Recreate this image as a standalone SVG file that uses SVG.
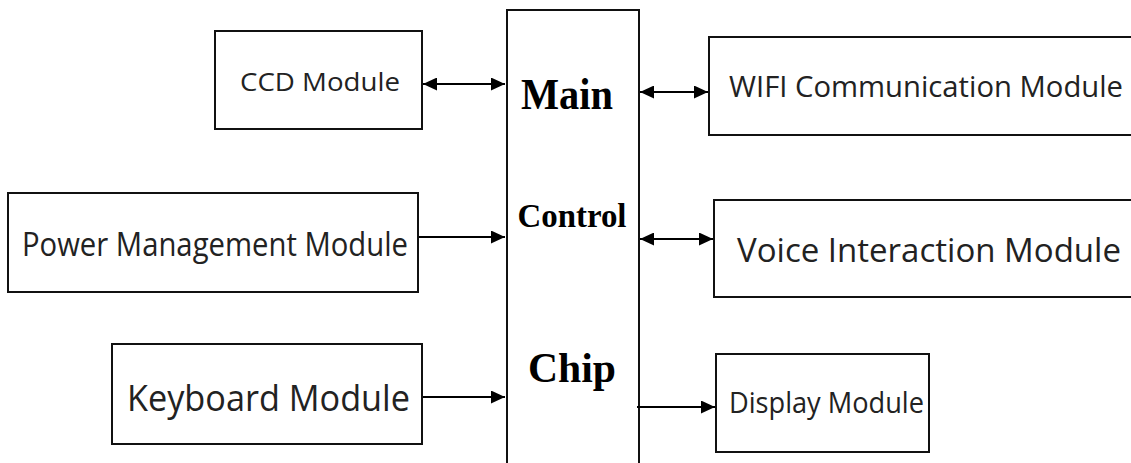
<svg xmlns="http://www.w3.org/2000/svg" width="1131" height="463" viewBox="0 0 1131 463">
  <style>
    .box { fill: #ffffff; stroke: #111111; stroke-width: 2; }
    .lbl { font-family: "Open Sans", "Noto Sans", "Liberation Sans", sans-serif; fill: #222222; }
    .chip { font-family: "Liberation Serif", "Times New Roman", serif; font-weight: bold; fill: #000000; text-anchor: middle; }
    .conn { stroke: #000000; stroke-width: 2; fill: none; }
  </style>
  <defs>
    <marker id="arrow" markerUnits="userSpaceOnUse" markerWidth="15" markerHeight="13" refX="14" refY="6.5" orient="auto-start-reverse">
      <path d="M0,0 L14,6.5 L0,13 Z" fill="#000000"/>
    </marker>
  </defs>
  <rect width="1131" height="463" fill="#ffffff"/>

  <g id="main-chip">
    <rect class="box" x="507" y="10" width="132" height="470"/>
    <text class="chip" x="567" y="109" font-size="44" textLength="92" lengthAdjust="spacingAndGlyphs">Main</text>
    <text class="chip" x="572" y="227" font-size="33" textLength="109" lengthAdjust="spacingAndGlyphs">Control</text>
    <text class="chip" x="572" y="382" font-size="43" textLength="88" lengthAdjust="spacingAndGlyphs">Chip</text>
  </g>

  <g id="ccd-module">
    <rect class="box" x="215" y="31" width="207" height="98"/>
    <text class="lbl" x="240" y="91" font-size="26" textLength="160" lengthAdjust="spacingAndGlyphs">CCD Module</text>
  </g>

  <g id="power-module">
    <rect class="box" x="8" y="193" width="410" height="99"/>
    <text class="lbl" x="22" y="256" font-size="32" textLength="386" lengthAdjust="spacingAndGlyphs">Power Management Module</text>
  </g>

  <g id="keyboard-module">
    <rect class="box" x="112" y="344" width="310" height="100"/>
    <text class="lbl" x="127" y="411" font-size="37" textLength="283" lengthAdjust="spacingAndGlyphs">Keyboard Module</text>
  </g>

  <g id="wifi-module">
    <rect class="box" x="709" y="37" width="440" height="98"/>
    <text class="lbl" x="729" y="97" font-size="29" textLength="394" lengthAdjust="spacingAndGlyphs">WIFI Communication Module</text>
  </g>

  <g id="voice-module">
    <rect class="box" x="714" y="200" width="440" height="97"/>
    <text class="lbl" x="737" y="262" font-size="33" textLength="384" lengthAdjust="spacingAndGlyphs">Voice Interaction Module</text>
  </g>

  <g id="display-module">
    <rect class="box" x="716" y="354" width="213" height="98"/>
    <text class="lbl" x="729" y="413" font-size="29" textLength="195" lengthAdjust="spacingAndGlyphs">Display Module</text>
  </g>

  <g id="connectors">
    <line class="conn" x1="423" y1="84" x2="505" y2="84" marker-start="url(#arrow)" marker-end="url(#arrow)"/>
    <line class="conn" x1="640" y1="92" x2="708" y2="92" marker-start="url(#arrow)" marker-end="url(#arrow)"/>
    <line class="conn" x1="419" y1="237" x2="505" y2="237" marker-end="url(#arrow)"/>
    <line class="conn" x1="640" y1="239" x2="713" y2="239" marker-start="url(#arrow)" marker-end="url(#arrow)"/>
    <line class="conn" x1="423" y1="397" x2="505" y2="397" marker-end="url(#arrow)"/>
    <line class="conn" x1="637" y1="407" x2="715" y2="407" marker-end="url(#arrow)"/>
  </g>
</svg>
